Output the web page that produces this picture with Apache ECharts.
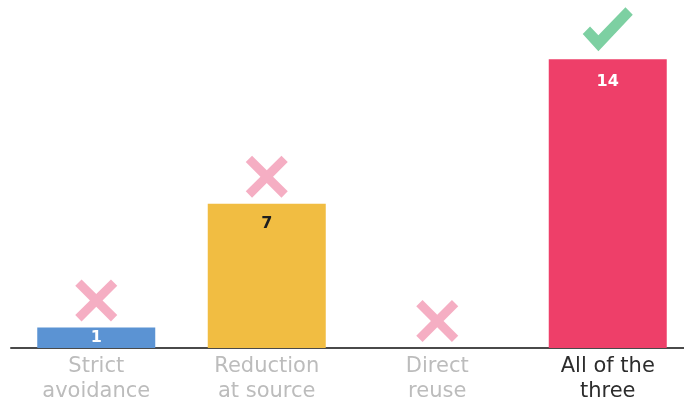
<!DOCTYPE html>
<html>
<head>
<meta charset="utf-8">
<script src="https://cdn.jsdelivr.net/npm/echarts@6/dist/echarts.min.js"></script>
<style>
  html, body { margin: 0; padding: 0; background: #ffffff; }
  #chart { width: 684px; height: 408px; }
</style>
</head>
<body>
<div id="chart"></div>
<script>
// Approaches and how many respondents chose each
const categories = ['Strict\navoidance', 'Reduction\nat source', 'Direct\nreuse', 'All of the\nthree'];
const counts = [1, 7, 0, 14];
const barColors = ['#5b93d3', '#f1bd42', '#5b93d3', '#ee3f69'];
const labelColors = ['#ffffff', '#1f1f1f', '#ffffff', '#ffffff'];
const labelDistances = [2, 12, 12, 15];
const categoryTextColors = ['#bcbcbc', '#bcbcbc', '#bcbcbc', '#2c2c2c'];
// true = recommended approach (check mark), false = cross
const recommended = [false, false, false, true];

const crossPath = 'path://M6,0 L20,14 L34,0 L40,6 L26,20 L40,34 L34,40 L20,26 L6,40 L0,34 L14,20 L0,6 Z';
const checkPath = 'path://M0,25 L7,18 L15,26 L41,0 L48,7 L15,41 Z';

const chart = echarts.init(document.getElementById('chart'), null, { renderer: 'canvas' });

chart.setOption({
  animation: false,
  backgroundColor: '#ffffff',
  grid: {
    left: 11, width: 682, top: 18, height: 330,
    containLabel: false,
    outerBoundsMode: 'none'
  },
  xAxis: {
    type: 'category',
    data: categories.map((c, i) => ({
      value: c,
      textStyle: { color: categoryTextColors[i] }
    })),
    axisLine: { show: true, lineStyle: { color: '#4a4a4a', width: 2 } },
    axisTick: { show: false },
    axisLabel: {
      margin: 6,
      fontFamily: '"DejaVu Sans", sans-serif',
      fontSize: 21,
      lineHeight: 25,
      interval: 0
    }
  },
  yAxis: {
    type: 'value',
    min: 0,
    max: 16,
    show: false
  },
  series: [
    {
      type: 'bar',
      barWidth: 118,
      data: counts.map((v, i) => ({
        value: v,
        itemStyle: { color: barColors[i] },
        label: {
          show: v > 0,
          color: labelColors[i],
          distance: labelDistances[i]
        }
      })),
      label: {
        position: 'insideTop',
        fontFamily: '"DejaVu Sans", sans-serif',
        fontSize: 16,
        fontWeight: 'bold',
        formatter: '{c}'
      },
      z: 2
    },
    {
      type: 'scatter',
      data: counts.map((v, i) => ({
        value: [i, v],
        symbol: recommended[i] ? checkPath : crossPath,
        symbolSize: recommended[i] ? [50, 44] : [42, 42],
        symbolOffset: recommended[i] ? [0, -30] : [0, -27],
        itemStyle: { color: recommended[i] ? '#5cc48b' : '#f29ab4' }
      })),
      silent: true,
      z: 3
    }
  ]
});
</script>
</body>
</html>
